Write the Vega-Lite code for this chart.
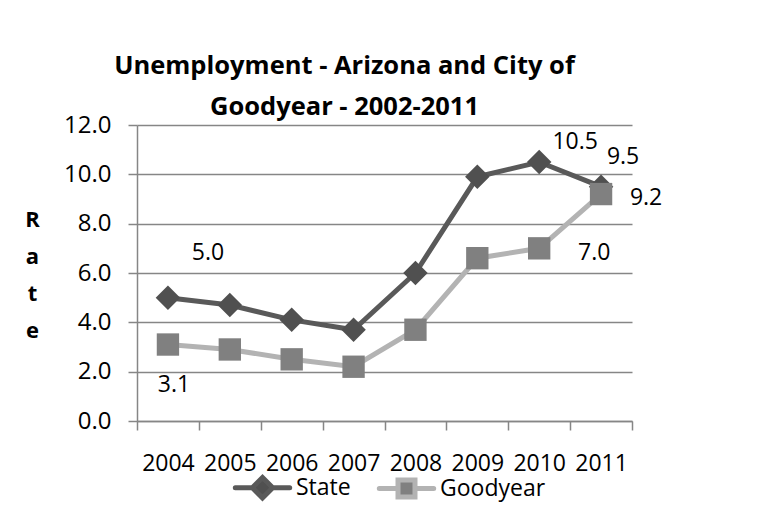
{
  "$schema": "https://vega.github.io/schema/vega-lite/v6.json",
  "width": 495,
  "height": 296,
  "autosize": "none",
  "padding": {"left": 137, "right": 128, "top": 125, "bottom": 86},
  "background": "white",
  "config": {
    "font": "Open Sans",
    "view": {"stroke": null},
    "axis": {"labelFont": "Open Sans", "labelColor": "#000000", "domainColor": "#868686", "tickColor": "#868686", "gridColor": "#868686", "domainWidth": 1.5, "tickWidth": 1.5, "gridWidth": 1.5}
  },
  "title": {
    "text": ["Unemployment - Arizona and City of", "Goodyear - 2002-2011"],
    "fontSize": 25.5,
    "font": "Open Sans",
    "fontWeight": "bold",
    "color": "#000000",
    "lineHeight": 41,
    "anchor": "middle",
    "dx": -40,
    "offset": -7
  },
  "data": {
    "values": [
      {"year": "2004", "series": "State", "rate": 5.0},
      {"year": "2005", "series": "State", "rate": 4.7},
      {"year": "2006", "series": "State", "rate": 4.1},
      {"year": "2007", "series": "State", "rate": 3.7},
      {"year": "2008", "series": "State", "rate": 6.0},
      {"year": "2009", "series": "State", "rate": 9.9},
      {"year": "2010", "series": "State", "rate": 10.5},
      {"year": "2011", "series": "State", "rate": 9.5},
      {"year": "2004", "series": "Goodyear", "rate": 3.1},
      {"year": "2005", "series": "Goodyear", "rate": 2.9},
      {"year": "2006", "series": "Goodyear", "rate": 2.5},
      {"year": "2007", "series": "Goodyear", "rate": 2.2},
      {"year": "2008", "series": "Goodyear", "rate": 3.7},
      {"year": "2009", "series": "Goodyear", "rate": 6.6},
      {"year": "2010", "series": "Goodyear", "rate": 7.0},
      {"year": "2011", "series": "Goodyear", "rate": 9.2}
    ]
  },
  "encoding": {
    "x": {
      "field": "year", "type": "ordinal",
      "scale": {"type": "band", "paddingInner": 0, "paddingOuter": 0},
      "axis": {"title": null, "labelAngle": 0, "labelFontSize": 23, "tickBand": "extent", "tickSize": 9, "labelPadding": 22, "grid": false}
    },
    "y": {
      "field": "rate", "type": "quantitative",
      "scale": {"domain": [0, 12]},
      "axis": {
        "values": [0, 2, 4, 6, 8, 10, 12],
        "format": ".1f",
        "labelFontSize": 24,
        "tickSize": 9,
        "labelPadding": 17,
        "grid": true,
        "title": ["R", "a", "t", "e"],
        "titleAngle": 0,
        "titleFontSize": 22,
        "titleFontWeight": "bold",
        "titleFont": "Open Sans",
        "titleColor": "#000000",
        "titleLineHeight": 37,
        "titleAlign": "center",
        "titleBaseline": "middle",
        "titleX": -105,
        "titleY": 94
      }
    }
  },
  "layer": [
    {
      "mark": {"type": "line", "strokeWidth": 5},
      "encoding": {
        "color": {
          "field": "series", "type": "nominal",
          "scale": {"domain": ["State", "Goodyear"], "range": ["#595959", "#b3b3b3"]},
          "legend": {
            "title": null, "orient": "none", "direction": "horizontal",
            "legendX": 114, "legendY": 351,
            "labelFontSize": 23, "labelFont": "Open Sans", "labelColor": "#000000",
            "symbolSize": 289, "symbolStrokeWidth": 5, "symbolOpacity": 1,
            "labelOffset": 22, "columnPadding": 18,
            "encode": {
              "symbols": {
                "update": {
                  "shape": {"signal": "datum.value == 'State' ? 'M-3.2,0H-1.2M1.2,0H3.2M0,-1.2L1.2,0L0,1.2L-1.2,0Z' : 'M-3.2,0H-1M1,0H3.2M-1,-1H1V1H-1Z'"},
                  "fill": {"signal": "datum.value == 'State' ? '#505050' : '#808080'"},
                  "stroke": {"signal": "datum.value == 'State' ? '#595959' : '#b3b3b3'"},
                  "strokeCap": {"value": "round"}
                }
              }
            }
          }
        }
      }
    },
    {
      "transform": [{"filter": "datum.series == 'State'"}],
      "mark": {"type": "point", "shape": "diamond", "filled": true, "opacity": 1, "size": 600, "color": "#505050"}
    },
    {
      "transform": [{"filter": "datum.series == 'Goodyear'"}],
      "mark": {"type": "point", "shape": "square", "filled": true, "opacity": 1, "size": 500, "color": "#808080"}
    },
    {
      "transform": [{"filter": "datum.series == 'State' && datum.year == '2004'"}],
      "mark": {"type": "text", "fontSize": 23, "dx": 40, "dy": -45},
      "encoding": {"text": {"field": "rate", "type": "quantitative", "format": ".1f"}}
    },
    {
      "transform": [{"filter": "datum.series == 'Goodyear' && datum.year == '2004'"}],
      "mark": {"type": "text", "fontSize": 23, "dx": 6, "dy": 40},
      "encoding": {"text": {"field": "rate", "type": "quantitative", "format": ".1f"}}
    },
    {
      "transform": [{"filter": "datum.series == 'State' && datum.year == '2010'"}],
      "mark": {"type": "text", "fontSize": 23, "dx": 36, "dy": -20},
      "encoding": {"text": {"field": "rate", "type": "quantitative", "format": ".1f"}}
    },
    {
      "transform": [{"filter": "datum.series == 'State' && datum.year == '2011'"}],
      "mark": {"type": "text", "fontSize": 23, "dx": 22, "dy": -30},
      "encoding": {"text": {"field": "rate", "type": "quantitative", "format": ".1f"}}
    },
    {
      "transform": [{"filter": "datum.series == 'Goodyear' && datum.year == '2011'"}],
      "mark": {"type": "text", "fontSize": 23, "dx": 45, "dy": 4},
      "encoding": {"text": {"field": "rate", "type": "quantitative", "format": ".1f"}}
    },
    {
      "transform": [{"filter": "datum.series == 'Goodyear' && datum.year == '2010'"}],
      "mark": {"type": "text", "fontSize": 23, "dx": 55, "dy": 5},
      "encoding": {"text": {"field": "rate", "type": "quantitative", "format": ".1f"}}
    }
  ]
}
